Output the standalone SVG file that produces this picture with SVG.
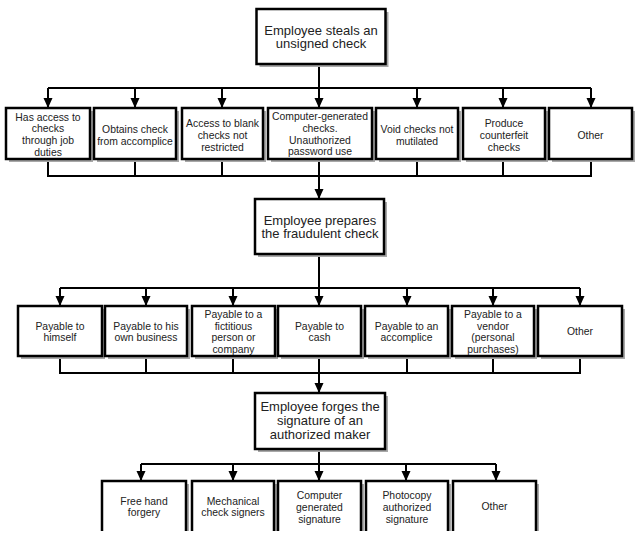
<svg xmlns="http://www.w3.org/2000/svg" width="640" height="538" viewBox="0 0 640 538">
<defs>
<style>
.bx{fill:#fff;stroke:#000;stroke-width:2.5}
.sh{fill:#a8a8a8}
.ln{fill:none;stroke:#000;stroke-width:2}
.ar{fill:none;stroke:#000;stroke-width:2;marker-end:url(#ah)}
.t{font-family:"Liberation Sans",Arial,sans-serif;font-size:10.4px;fill:#222;text-anchor:middle}
.tm{font-family:"Liberation Sans",Arial,sans-serif;font-size:13px;fill:#222;text-anchor:middle}
</style>
<marker id="ah" markerUnits="userSpaceOnUse" markerWidth="10" markerHeight="10" viewBox="0 0 10 10" refX="9" refY="5" orient="auto">
<path d="M0,0.5 L10,5 L0,9.5 Z" fill="#000"/>
</marker>
</defs>
<rect width="640" height="538" fill="#fff"/>

<g id="connectors">
<path class="ln" d="M48,88 H591"/>
<path class="ar" d="M319,64 V107"/>
<path class="ar" d="M48,88 V107"/>
<path class="ar" d="M135,88 V107"/>
<path class="ar" d="M222,88 V107"/>
<path class="ar" d="M417,88 V107"/>
<path class="ar" d="M503,88 V107"/>
<path class="ar" d="M591,88 V107"/>
<path class="ln" d="M48,159 V176 H591 V159 M135,159 V176 M222,159 V176 M417,159 V176 M503,159 V176"/>
<path class="ar" d="M319,159 V198"/>
<path class="ln" d="M60,288 H580"/>
<path class="ar" d="M319,254 V305"/>
<path class="ar" d="M60,288 V305"/>
<path class="ar" d="M146,288 V305"/>
<path class="ar" d="M233,288 V305"/>
<path class="ar" d="M407,288 V305"/>
<path class="ar" d="M493,288 V305"/>
<path class="ar" d="M580,288 V305"/>
<path class="ln" d="M60,356 V373 H580 V356 M146,356 V373 M233,356 V373 M407,356 V373 M493,356 V373"/>
<path class="ar" d="M319,356 V392"/>
<path class="ln" d="M141,464 H496"/>
<path class="ar" d="M319,449 V480"/>
<path class="ar" d="M141,464 V480"/>
<path class="ar" d="M233,464 V480"/>
<path class="ar" d="M406,464 V480"/>
<path class="ar" d="M496,464 V480"/>
</g>

<g id="n-steals">
<rect class="sh" x="259.5" y="12" width="129" height="55"/>
<rect class="bx" x="256.5" y="9" width="129" height="55"/>
<text class="tm" x="321" y="34.5">Employee steals an</text>
<text class="tm" x="321" y="48">unsigned check</text>
</g>

<g id="n-r1a">
<rect class="sh" x="9" y="111" width="84" height="51"/>
<rect class="bx" x="6" y="108" width="84" height="51"/>
<text class="t" x="48" y="120.5">Has access to</text>
<text class="t" x="48" y="132.3">checks</text>
<text class="t" x="48" y="144">through job</text>
<text class="t" x="48" y="155.7">duties</text>
</g>
<g id="n-r1b">
<rect class="sh" x="97" y="111" width="82" height="51"/>
<rect class="bx" x="94" y="108" width="82" height="51"/>
<text class="t" x="135" y="133">Obtains check</text>
<text class="t" x="135" y="144.6">from accomplice</text>
</g>
<g id="n-r1c">
<rect class="sh" x="185" y="111" width="81" height="51"/>
<rect class="bx" x="182" y="108" width="81" height="51"/>
<text class="t" x="222.5" y="127.2">Access to blank</text>
<text class="t" x="222.5" y="138.9">checks not</text>
<text class="t" x="222.5" y="150.6">restricted</text>
</g>
<g id="n-r1d">
<rect class="sh" x="271" y="111" width="104" height="51"/>
<rect class="bx" x="268" y="108" width="104" height="51"/>
<text class="t" x="320" y="120">Computer-generated</text>
<text class="t" x="320" y="131.8">checks.</text>
<text class="t" x="320" y="143.6">Unauthorized</text>
<text class="t" x="320" y="155.4">password use</text>
</g>
<g id="n-r1e">
<rect class="sh" x="379" y="111" width="82" height="51"/>
<rect class="bx" x="376" y="108" width="82" height="51"/>
<text class="t" x="417" y="133">Void checks not</text>
<text class="t" x="417" y="144.6">mutilated</text>
</g>
<g id="n-r1f">
<rect class="sh" x="466" y="111" width="82" height="51"/>
<rect class="bx" x="463" y="108" width="82" height="51"/>
<text class="t" x="504" y="127.2">Produce</text>
<text class="t" x="504" y="138.9">counterfeit</text>
<text class="t" x="504" y="150.6">checks</text>
</g>
<g id="n-r1g">
<rect class="sh" x="552" y="111" width="83" height="51"/>
<rect class="bx" x="549" y="108" width="83" height="51"/>
<text class="t" x="590.5" y="138.5">Other</text>
</g>

<g id="n-prepares">
<rect class="sh" x="258" y="202" width="129" height="55"/>
<rect class="bx" x="255" y="199" width="129" height="55"/>
<text class="tm" x="320" y="224.5">Employee prepares</text>
<text class="tm" x="320" y="238">the fraudulent check</text>
</g>

<g id="n-r2a">
<rect class="sh" x="21" y="309" width="84" height="50"/>
<rect class="bx" x="18" y="306" width="84" height="50"/>
<text class="t" x="60" y="329.5">Payable to</text>
<text class="t" x="60" y="340.8">himself</text>
</g>
<g id="n-r2b">
<rect class="sh" x="108" y="309" width="82" height="50"/>
<rect class="bx" x="105" y="306" width="82" height="50"/>
<text class="t" x="146" y="329.5">Payable to his</text>
<text class="t" x="146" y="340.8">own business</text>
</g>
<g id="n-r2c">
<rect class="sh" x="195" y="309" width="83" height="50"/>
<rect class="bx" x="192" y="306" width="83" height="50"/>
<text class="t" x="233.5" y="318">Payable to a</text>
<text class="t" x="233.5" y="329.7">fictitious</text>
<text class="t" x="233.5" y="341.4">person or</text>
<text class="t" x="233.5" y="353.1">company</text>
</g>
<g id="n-r2d">
<rect class="sh" x="281" y="309" width="83" height="50"/>
<rect class="bx" x="278" y="306" width="83" height="50"/>
<text class="t" x="319.5" y="329.5">Payable to</text>
<text class="t" x="319.5" y="340.8">cash</text>
</g>
<g id="n-r2e">
<rect class="sh" x="368" y="309" width="83" height="50"/>
<rect class="bx" x="365" y="306" width="83" height="50"/>
<text class="t" x="406.5" y="329.5">Payable to an</text>
<text class="t" x="406.5" y="340.8">accomplice</text>
</g>
<g id="n-r2f">
<rect class="sh" x="455" y="309" width="82" height="50"/>
<rect class="bx" x="452" y="306" width="82" height="50"/>
<text class="t" x="493" y="318">Payable to a</text>
<text class="t" x="493" y="329.7">vendor</text>
<text class="t" x="493" y="341.4">(personal</text>
<text class="t" x="493" y="353.1">purchases)</text>
</g>
<g id="n-r2g">
<rect class="sh" x="541" y="309" width="84" height="50"/>
<rect class="bx" x="538" y="306" width="84" height="50"/>
<text class="t" x="580" y="335">Other</text>
</g>

<g id="n-forges">
<rect class="sh" x="258" y="396" width="130" height="56"/>
<rect class="bx" x="255" y="393" width="130" height="56"/>
<text class="tm" x="320" y="411">Employee forges the</text>
<text class="tm" x="320" y="425.2">signature of an</text>
<text class="tm" x="320" y="439.4">authorized maker</text>
</g>

<g id="n-r3a">
<path class="sh" d="M186,484 H189 V531 H186 Z"/>
<path class="bx" d="M102,531 V481 H186 V531"/>
<text class="t" x="144" y="504.5">Free hand</text>
<text class="t" x="144" y="515.6">forgery</text>
</g>
<g id="n-r3b">
<path class="sh" d="M274,484 H277 V531 H274 Z"/>
<path class="bx" d="M192,531 V481 H274 V531"/>
<text class="t" x="233" y="504.5">Mechanical</text>
<text class="t" x="233" y="515.6">check signers</text>
</g>
<g id="n-r3c">
<path class="sh" d="M361,484 H364 V531 H361 Z"/>
<path class="bx" d="M278,531 V481 H361 V531"/>
<text class="t" x="319.5" y="499">Computer</text>
<text class="t" x="319.5" y="510.8">generated</text>
<text class="t" x="319.5" y="522.6">signature</text>
</g>
<g id="n-r3d">
<path class="sh" d="M448,484 H451 V531 H448 Z"/>
<path class="bx" d="M366,531 V481 H448 V531"/>
<text class="t" x="407" y="499">Photocopy</text>
<text class="t" x="407" y="510.8">authorized</text>
<text class="t" x="407" y="522.6">signature</text>
</g>
<g id="n-r3e">
<path class="sh" d="M536,484 H539 V531 H536 Z"/>
<path class="bx" d="M453,531 V481 H536 V531"/>
<text class="t" x="494.5" y="510">Other</text>
</g>
</svg>
